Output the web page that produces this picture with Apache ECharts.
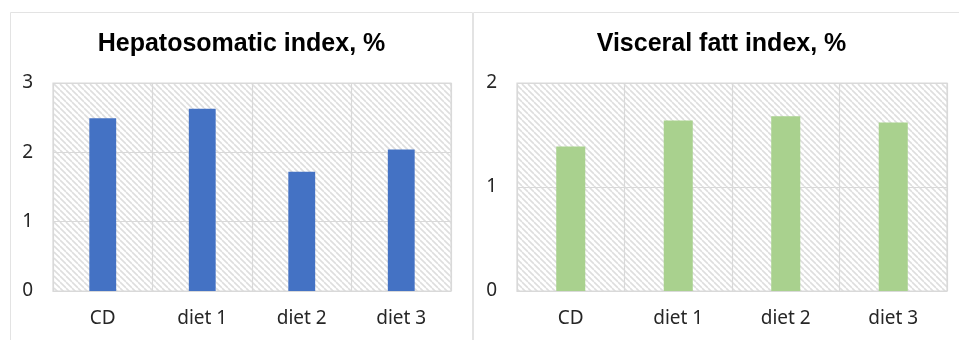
<!DOCTYPE html>
<html>
<head>
<meta charset="utf-8">
<style>
  html, body { margin: 0; padding: 0; background: #ffffff; }
  #chart { width: 959px; height: 340px; }
</style>
<script src="https://cdn.jsdelivr.net/npm/echarts@6/dist/echarts.min.js"></script>
</head>
<body>
<div id="chart"></div>
<script>
// Categories and measured indices
const categories = ['CD', 'diet 1', 'diet 2', 'diet 3'];
const hepatosomaticIndex = [2.49, 2.63, 1.72, 2.04];
const visceralFatIndex = [1.39, 1.64, 1.68, 1.62];
const hepatoTicks = { min: 0, max: 3, interval: 1 };
const visceralTicks = { min: 0, max: 2, interval: 1 };
const titles = ['Hepatosomatic index, %', 'Visceral fatt index, %'];

// Light diagonal hatch used as the plot-area fill
function makeHatch() {
  const s = 6;
  const c = document.createElement('canvas');
  c.width = s; c.height = s;
  const ctx = c.getContext('2d');
  ctx.fillStyle = '#ffffff';
  ctx.fillRect(0, 0, s, s);
  ctx.strokeStyle = '#dedede';
  ctx.lineWidth = 1.6;
  for (let k = -1; k <= 1; k++) {
    ctx.beginPath();
    ctx.moveTo(k * s, 0);
    ctx.lineTo(k * s + s, s);
    ctx.stroke();
  }
  return { image: c, repeat: 'repeat' };
}
const hatch = makeHatch();

const gridLine = '#d9d9d9';
const labelFont = { fontFamily: 'Noto Sans', fontSize: 19, color: '#262626' };

function xAxisFor(gridIndex) {
  return {
    type: 'category', gridIndex: gridIndex, data: categories,
    axisLine: { lineStyle: { color: gridLine } },
    axisTick: { show: false },
    axisLabel: Object.assign({ margin: 18 }, labelFont),
    splitLine: { show: true, interval: 0, lineStyle: { color: gridLine, width: 1.2 } }
  };
}
function yAxisFor(gridIndex, ticks) {
  return {
    type: 'value', gridIndex: gridIndex,
    min: ticks.min, max: ticks.max, interval: ticks.interval,
    axisLine: { show: false }, axisTick: { show: false },
    axisLabel: Object.assign({ margin: 20 }, labelFont),
    splitLine: { lineStyle: { color: gridLine, width: 1.2 } }
  };
}

const chart = echarts.init(document.getElementById('chart'), null, { renderer: 'canvas' });
chart.setOption({
  animation: false,
  backgroundColor: '#ffffff',
  title: [
    { text: titles[0], left: 241.5, top: 32, textAlign: 'center', padding: 0,
      textStyle: { fontFamily: 'Liberation Sans', fontWeight: 'bold', fontSize: 25, color: '#000000' } },
    { text: titles[1], left: 721.5, top: 32, textAlign: 'center', padding: 0,
      textStyle: { fontFamily: 'Liberation Sans', fontWeight: 'bold', fontSize: 25, color: '#000000' } }
  ],
  graphic: [
    { type: 'rect', silent: true, z: -10,
      shape: { x: 10.5, y: 12.5, width: 462, height: 360 },
      style: { fill: 'none', stroke: '#e3e3e3', lineWidth: 1 } },
    { type: 'rect', silent: true, z: -10,
      shape: { x: 473.5, y: 12.5, width: 520, height: 360 },
      style: { fill: 'none', stroke: '#e3e3e3', lineWidth: 1 } }
  ],
  grid: [
    { left: 53, top: 83, width: 398, height: 208, show: true,
      backgroundColor: hatch, borderColor: gridLine, borderWidth: 1.2 },
    { left: 517, top: 83, width: 430, height: 208, show: true,
      backgroundColor: hatch, borderColor: gridLine, borderWidth: 1.2 }
  ],
  xAxis: [xAxisFor(0), xAxisFor(1)],
  yAxis: [yAxisFor(0, hepatoTicks), yAxisFor(1, visceralTicks)],
  series: [
    { type: 'bar', name: titles[0], xAxisIndex: 0, yAxisIndex: 0,
      data: hepatosomaticIndex, barWidth: '27%',
      itemStyle: { color: '#4472c4' } },
    { type: 'bar', name: titles[1], xAxisIndex: 1, yAxisIndex: 1,
      data: visceralFatIndex, barWidth: '27%',
      itemStyle: { color: '#a9d18e' } }
  ]
});
</script>
</body>
</html>
